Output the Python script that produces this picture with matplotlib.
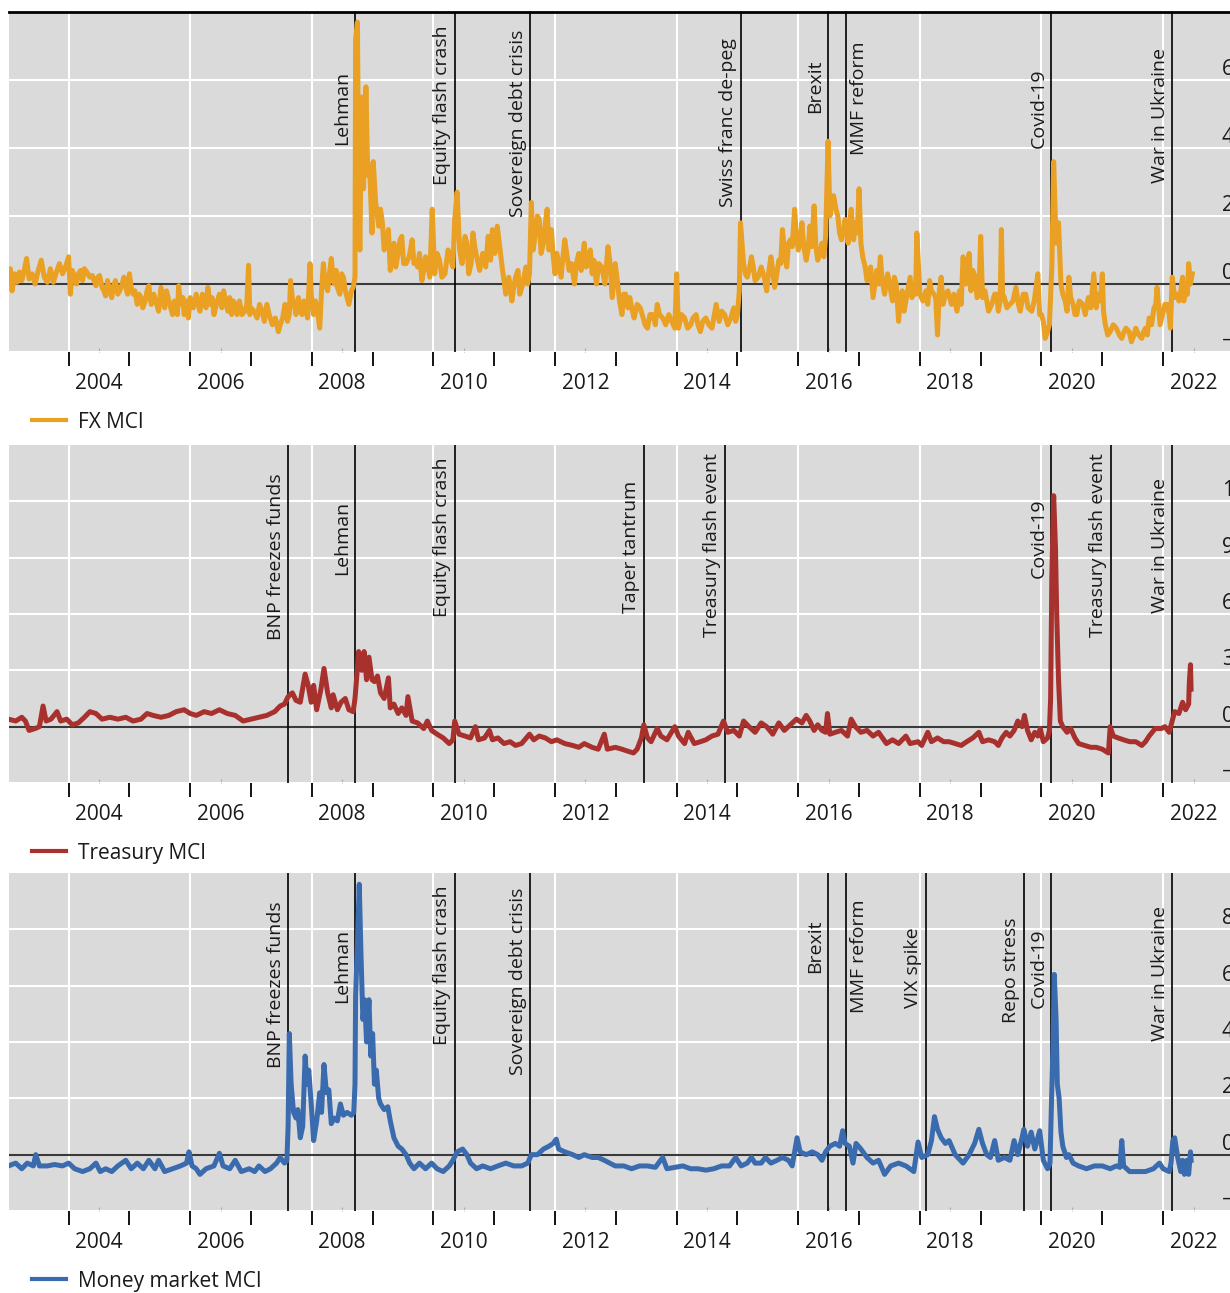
import matplotlib
matplotlib.use("Agg")
import matplotlib.pyplot as plt
from matplotlib.lines import Line2D

# ---------------- data (decimal year, index value) ----------------
fx_points = [
    (2003.01, 0.1), (2003.04, 0.45), (2003.07, -0.2), (2003.11, 0.3), (2003.15, 0.05), (2003.19, 0.35),
    (2003.23, 0.1), (2003.27, 0.4), (2003.31, 0.75), (2003.35, 0.15), (2003.40, 0.3), (2003.45, 0.0),
    (2003.50, 0.4), (2003.55, 0.7), (2003.60, 0.2), (2003.65, 0.05), (2003.70, 0.45), (2003.75, 0.05),
    (2003.80, 0.35), (2003.85, 0.6), (2003.90, 0.3), (2003.95, 0.5), (2004.00, 0.8), (2004.03, -0.3),
    (2004.06, 0.4), (2004.10, 0.2), (2004.16, 0.3), (2004.23, 0.1), (2004.26, 0.45), (2004.35, 0.2),
    (2004.42, 0.1), (2004.48, 0.2), (2004.55, -0.1), (2004.61, -0.35), (2004.68, -0.2), (2004.74, -0.05),
    (2004.81, -0.3), (2004.88, 0.0), (2004.94, -0.1), (2005.00, 0.3), (2005.06, -0.3), (2005.13, -0.6),
    (2005.19, -0.4), (2005.26, -0.5), (2005.32, -0.05), (2005.36, -0.6), (2005.45, -0.6), (2005.52, -0.1),
    (2005.58, -0.7), (2005.65, -0.5), (2005.71, -0.9), (2005.77, -0.7), (2005.81, -0.05), (2005.86, -0.6),
    (2005.90, -0.9), (2006.00, -0.4), (2006.10, -0.3), (2006.16, -0.8), (2006.23, -0.5), (2006.29, -0.1),
    (2006.39, -0.9), (2006.48, -0.3), (2006.58, -0.5), (2006.68, -0.9), (2006.74, -0.6), (2006.81, -0.5),
    (2006.90, -0.8), (2006.96, 0.55), (2007.00, -0.7), (2007.10, -1.0), (2007.18, -0.8), (2007.26, -0.6),
    (2007.35, -1.2), (2007.45, -1.4), (2007.52, -1.0), (2007.60, -1.1), (2007.65, 0.1), (2007.71, -0.6),
    (2007.84, -0.9), (2007.90, -0.7), (2007.97, 0.6), (2008.03, -0.9), (2008.13, -1.3), (2008.19, 0.6),
    (2008.26, -0.2), (2008.32, 0.75), (2008.37, 0.0), (2008.42, -0.1), (2008.52, 0.2), (2008.58, -0.4),
    (2008.61, -0.6), (2008.68, -0.1), (2008.71, 0.2), (2008.72, 7.2), (2008.75, 7.7), (2008.77, 3.0),
    (2008.79, 1.0), (2008.82, 5.5), (2008.85, 2.8), (2008.89, 5.8), (2008.92, 3.2), (2008.95, 3.5),
    (2008.99, 1.5), (2009.01, 3.6), (2009.05, 2.4), (2009.10, 1.7), (2009.16, 1.8), (2009.23, 1.3),
    (2009.29, 0.4), (2009.35, 1.2), (2009.42, 0.9), (2009.48, 1.4), (2009.55, 0.6), (2009.65, 1.3),
    (2009.70, 0.7), (2009.74, 0.5), (2009.81, 0.1), (2009.87, 0.8), (2009.94, 0.2), (2009.98, 2.2),
    (2010.02, 0.3), (2010.10, 0.7), (2010.19, 0.3), (2010.29, 0.7), (2010.35, 1.9), (2010.39, 2.7),
    (2010.43, 1.0), (2010.52, 1.4), (2010.58, 0.3), (2010.65, 1.5), (2010.71, 0.8), (2010.81, 0.9),
    (2010.90, 1.4), (2010.97, 1.6), (2011.05, 1.7), (2011.13, 0.5), (2011.19, -0.3), (2011.29, -0.5),
    (2011.35, 0.2), (2011.42, -0.3), (2011.52, 0.5), (2011.58, 0.3), (2011.61, 2.4), (2011.68, 1.5),
    (2011.74, 1.9), (2011.81, 1.2), (2011.87, 2.2), (2011.94, 1.6), (2012.00, 0.3), (2012.06, 0.6),
    (2012.16, 1.3), (2012.23, 0.4), (2012.32, 0.0), (2012.39, 0.9), (2012.48, 1.2), (2012.55, 0.6),
    (2012.61, 0.3), (2012.68, 0.0), (2012.77, 0.5), (2012.87, 1.1), (2012.94, -0.4), (2012.99, 0.6),
    (2013.06, -0.5), (2013.16, -0.3), (2013.26, -0.7), (2013.35, -0.6), (2013.45, -1.0), (2013.52, -1.3),
    (2013.61, -0.9), (2013.68, -0.6), (2013.77, -1.0), (2013.87, -0.9), (2013.97, -1.3), (2014.00, 0.3),
    (2014.03, -1.3), (2014.13, -1.0), (2014.23, -1.2), (2014.32, -0.9), (2014.39, -1.4), (2014.48, -1.0),
    (2014.58, -1.3), (2014.65, -0.6), (2014.74, -0.8), (2014.84, -1.2), (2014.94, -0.7), (2015.00, -0.9),
    (2015.03, -0.2), (2015.05, 1.8), (2015.10, 0.6), (2015.16, 0.2), (2015.23, 0.8), (2015.29, 0.1),
    (2015.39, 0.5), (2015.48, -0.2), (2015.55, 0.8), (2015.61, -0.1), (2015.68, 0.7), (2015.74, 1.6),
    (2015.81, 0.5), (2015.87, 1.3), (2015.94, 2.2), (2016.00, 1.0), (2016.06, 1.8), (2016.13, 0.7),
    (2016.19, 1.7), (2016.26, 2.3), (2016.32, 0.7), (2016.39, 1.2), (2016.45, 1.4), (2016.49, 4.2),
    (2016.52, 2.0), (2016.58, 2.6), (2016.65, 2.0), (2016.71, 1.3), (2016.77, 1.9), (2016.82, 1.2),
    (2016.87, 2.2), (2016.94, 1.8), (2017.00, 2.8), (2017.03, 1.2), (2017.10, 0.5), (2017.16, 0.3),
    (2017.23, -0.4), (2017.29, 0.4), (2017.35, 0.8), (2017.42, -0.3), (2017.52, -0.2), (2017.58, 0.2),
    (2017.65, -1.1), (2017.71, -0.2), (2017.77, -0.5), (2017.84, 0.2), (2017.90, -0.1), (2017.95, 1.5),
    (2018.00, -0.3), (2018.10, -0.2), (2018.16, 0.1), (2018.23, -0.3), (2018.29, -1.5), (2018.35, 0.2),
    (2018.42, -0.3), (2018.52, -0.6), (2018.61, -0.8), (2018.71, 0.8), (2018.81, 0.9), (2018.87, 0.4),
    (2018.94, -0.4), (2019.00, 1.4), (2019.03, -0.4), (2019.13, -0.8), (2019.23, -0.3), (2019.29, -0.8),
    (2019.34, 1.6), (2019.39, -0.4), (2019.48, -0.6), (2019.58, -0.1), (2019.65, -0.8), (2019.74, -0.3),
    (2019.84, -0.8), (2019.94, 0.3), (2020.00, -0.9), (2020.06, -1.6), (2020.13, -1.2), (2020.17, 0.5),
    (2020.20, 3.6), (2020.24, 1.2), (2020.28, 1.8), (2020.32, 0.0), (2020.39, -0.5), (2020.45, 0.2),
    (2020.52, -0.6), (2020.58, -0.9), (2020.68, -0.6), (2020.77, -0.4), (2020.86, 0.3), (2020.90, -0.7),
    (2020.97, -0.5), (2021.00, 0.3), (2021.05, -1.2), (2021.13, -1.4), (2021.23, -1.3), (2021.32, -1.6),
    (2021.39, -1.3), (2021.48, -1.7), (2021.55, -1.3), (2021.65, -1.6), (2021.71, -1.3), (2021.77, -1.0),
    (2021.85, -0.7), (2021.90, -0.1), (2021.95, -1.2), (2022.03, -0.6), (2022.10, -0.9), (2022.15, 0.2),
    (2022.19, -0.4), (2022.26, -0.5), (2022.32, 0.2), (2022.37, -0.2), (2022.42, 0.6), (2022.45, 0.0),
    (2022.48, 0.3),
]

# further readings of the FX band between the points above
fx_points_more = [
    (2004.13, 0.0), (2004.20, 0.4), (2004.30, 0.35), (2004.39, 0.25), (2004.45, -0.05), (2004.51, 0.25),
    (2004.58, -0.2), (2004.64, 0.1), (2004.71, -0.4), (2004.77, 0.1), (2004.84, -0.2), (2004.91, 0.2),
    (2004.97, -0.3), (2005.03, -0.1), (2005.09, -0.2), (2005.16, -0.3), (2005.22, -0.7), (2005.29, -0.2),
    (2005.34, -0.4), (2005.40, -0.3), (2005.48, -0.8), (2005.55, -0.4), (2005.61, -0.2), (2005.68, -0.7),
    (2005.74, -0.5), (2005.79, -0.9), (2005.83, -0.4), (2005.88, -0.4), (2005.94, -0.5), (2005.97, -1.0),
    (2006.05, -0.7), (2006.13, -0.6), (2006.20, -0.3), (2006.26, -0.7), (2006.33, -0.6), (2006.36, -0.4),
    (2006.43, -0.6), (2006.52, -0.7), (2006.55, -0.2), (2006.62, -0.8), (2006.65, -0.4), (2006.71, -0.5),
    (2006.77, -0.9), (2006.85, -0.9), (2006.93, -0.6), (2006.98, -0.9), (2007.05, -0.8), (2007.14, -0.6),
    (2007.22, -1.1), (2007.30, -0.9), (2007.40, -1.0), (2007.48, -1.2), (2007.56, -0.6), (2007.63, -0.9),
    (2007.68, -0.4), (2007.74, -0.9), (2007.78, -0.4), (2007.81, -0.8), (2007.87, -0.5), (2007.93, -1.0),
    (2007.99, -0.3), (2008.06, -0.5), (2008.10, -0.9), (2008.16, -0.2), (2008.22, 0.0), (2008.29, 0.3),
    (2008.35, 0.2), (2008.40, 0.4), (2008.46, -0.3), (2008.49, 0.3), (2008.55, -0.2), (2008.65, -0.2),
    (2009.13, 2.2), (2009.19, 1.0), (2009.26, 1.6), (2009.32, 0.9), (2009.38, 0.5), (2009.45, 1.3),
    (2009.51, 0.6), (2009.60, 0.8), (2009.68, 0.6), (2009.77, 0.9), (2009.84, 0.4), (2009.91, 0.5),
    (2010.06, 0.9), (2010.14, 0.2), (2010.24, 1.0), (2010.32, 0.5), (2010.47, 0.6), (2010.55, 1.2),
    (2010.62, 0.6), (2010.68, 1.1), (2010.76, 0.4), (2010.86, 0.5), (2010.94, 0.7), (2011.01, 0.9),
    (2011.09, 1.1), (2011.16, 0.1), (2011.24, 0.2), (2011.32, -0.1), (2011.39, 0.4), (2011.47, 0.0),
    (2011.55, 0.0), (2011.64, 1.0), (2011.71, 2.0), (2011.77, 0.9), (2011.84, 1.8), (2011.90, 1.0),
    (2011.97, 0.8), (2012.03, 0.9), (2012.10, 0.2), (2012.13, 0.8), (2012.20, 0.8), (2012.27, 0.6),
    (2012.35, 0.6), (2012.43, 0.4), (2012.51, 0.5), (2012.58, 1.0), (2012.64, 0.7), (2012.72, 0.6),
    (2012.82, 0.0), (2012.90, 0.7), (2012.97, 0.2), (2013.03, 0.0), (2013.10, -0.9), (2013.13, -0.3),
    (2013.20, -0.7), (2013.23, -0.4), (2013.30, -1.0), (2013.40, -0.7), (2013.48, -1.2), (2013.56, -0.9),
    (2013.65, -1.2), (2013.72, -0.9), (2013.82, -1.2), (2013.92, -1.1), (2014.08, -0.9), (2014.18, -1.3),
    (2014.27, -1.0), (2014.35, -1.2), (2014.43, -1.1), (2014.53, -1.2), (2014.62, -0.9), (2014.70, -1.1),
    (2014.79, -0.9), (2014.89, -1.0), (2014.97, -1.1), (2015.13, 0.3), (2015.19, 0.4), (2015.26, 0.5),
    (2015.34, 0.2), (2015.44, 0.2), (2015.51, 0.3), (2015.58, 0.4), (2015.64, 0.2), (2015.71, 0.6),
    (2015.78, 0.8), (2015.84, 1.2), (2015.90, 1.1), (2015.97, 1.4), (2016.03, 1.2), (2016.09, 1.1),
    (2016.16, 1.0), (2016.22, 1.1), (2016.29, 1.1), (2016.35, 0.9), (2016.42, 0.8), (2016.55, 2.3),
    (2016.62, 2.2), (2016.68, 1.5), (2016.74, 1.5), (2016.84, 1.7), (2016.91, 1.3), (2016.97, 1.5),
    (2017.06, 0.8), (2017.13, 0.1), (2017.19, 0.5), (2017.26, 0.0), (2017.32, 0.0), (2017.38, 0.1),
    (2017.47, 0.3), (2017.55, -0.5), (2017.61, 0.0), (2017.68, -0.4), (2017.74, -0.8), (2017.81, -0.1),
    (2017.87, -0.4), (2017.93, -0.3), (2018.05, -0.5), (2018.13, -0.6), (2018.19, -0.2), (2018.26, -0.4),
    (2018.32, -0.2), (2018.38, -0.6), (2018.46, -0.2), (2018.56, -0.3), (2018.65, -0.2), (2018.68, -0.6),
    (2018.76, 0.0), (2018.84, -0.2), (2018.91, 0.2), (2018.97, -0.3), (2019.07, -0.2), (2019.18, -0.6),
    (2019.26, -0.3), (2019.32, -0.5), (2019.36, -0.3), (2019.43, -0.7), (2019.53, -0.5), (2019.62, -0.6),
    (2019.70, -0.3), (2019.78, -0.7), (2019.88, -0.5), (2019.97, -0.9), (2020.03, -1.1), (2020.10, -1.4),
    (2020.35, -0.3), (2020.42, -0.8), (2020.48, -0.4), (2020.55, -0.9), (2020.62, -0.5), (2020.72, -0.9),
    (2020.81, -0.7), (2020.93, -0.3), (2021.02, -0.8), (2021.09, -1.5), (2021.18, -1.2), (2021.28, -1.5),
    (2021.36, -1.4), (2021.44, -1.4), (2021.52, -1.5), (2021.60, -1.5), (2021.68, -1.4), (2021.74, -1.5),
    (2021.81, -1.2), (2021.88, -0.6), (2021.99, -0.9), (2022.07, -0.6), (2022.12, -1.3), (2022.23, -0.3),
    (2022.29, -0.2), (2022.34, -0.5), (2022.40, -0.3),
]

treasury_points = [
    (2003.01, 0.4), (2003.13, 0.3), (2003.23, 0.5), (2003.29, 0.3), (2003.35, -0.2), (2003.45, -0.1),
    (2003.52, 0.0), (2003.58, 1.1), (2003.63, 0.3), (2003.71, 0.4), (2003.81, 0.8), (2003.87, 0.3),
    (2003.97, 0.4), (2004.06, 0.1), (2004.16, 0.2), (2004.26, 0.5), (2004.35, 0.8), (2004.45, 0.7),
    (2004.55, 0.4), (2004.68, 0.5), (2004.81, 0.4), (2004.94, 0.5), (2005.06, 0.3), (2005.19, 0.4),
    (2005.29, 0.7), (2005.39, 0.6), (2005.52, 0.5), (2005.65, 0.6), (2005.77, 0.8), (2005.90, 0.9),
    (2006.00, 0.7), (2006.10, 0.6), (2006.23, 0.8), (2006.35, 0.7), (2006.48, 0.9), (2006.61, 0.7),
    (2006.74, 0.6), (2006.87, 0.3), (2007.00, 0.4), (2007.13, 0.5), (2007.26, 0.6), (2007.39, 0.8),
    (2007.48, 1.1), (2007.55, 1.2), (2007.61, 1.6), (2007.68, 1.8), (2007.74, 1.4), (2007.81, 1.3),
    (2007.89, 2.8), (2007.94, 2.2), (2007.99, 1.3), (2008.03, 2.2), (2008.08, 0.9), (2008.15, 2.0),
    (2008.20, 3.1), (2008.26, 1.8), (2008.32, 1.0), (2008.35, 1.7), (2008.42, 0.9), (2008.48, 1.3),
    (2008.55, 1.5), (2008.61, 0.9), (2008.68, 0.8), (2008.71, 1.5), (2008.74, 2.7), (2008.77, 4.0),
    (2008.82, 3.0), (2008.86, 4.0), (2008.90, 2.5), (2008.94, 3.7), (2008.99, 2.5), (2009.03, 2.4),
    (2009.08, 2.7), (2009.13, 1.8), (2009.19, 1.5), (2009.26, 2.6), (2009.29, 1.0), (2009.35, 1.2),
    (2009.42, 0.7), (2009.48, 1.0), (2009.55, 0.6), (2009.58, 1.6), (2009.65, 0.3), (2009.74, 0.2),
    (2009.84, -0.1), (2009.90, 0.3), (2009.97, -0.2), (2010.06, -0.4), (2010.16, -0.6), (2010.26, -0.9),
    (2010.32, -0.7), (2010.35, 0.3), (2010.42, -0.4), (2010.52, -0.5), (2010.61, -0.6), (2010.69, 0.0),
    (2010.74, -0.7), (2010.84, -0.6), (2010.92, -0.2), (2010.97, -0.7), (2011.06, -0.6), (2011.16, -0.9),
    (2011.26, -0.8), (2011.35, -1.0), (2011.45, -0.9), (2011.58, -0.4), (2011.65, -0.7), (2011.74, -0.5),
    (2011.84, -0.6), (2011.94, -0.8), (2012.03, -0.7), (2012.16, -0.9), (2012.29, -1.0), (2012.39, -1.1),
    (2012.48, -0.9), (2012.61, -1.1), (2012.71, -1.2), (2012.81, -0.4), (2012.86, -1.2), (2012.99, -1.1),
    (2013.10, -1.2), (2013.19, -1.3), (2013.29, -1.4), (2013.35, -1.2), (2013.42, -0.6), (2013.46, 0.1),
    (2013.52, -0.6), (2013.58, -0.8), (2013.68, -0.1), (2013.74, -0.5), (2013.84, -0.7), (2013.97, 0.0),
    (2014.03, -0.5), (2014.13, -0.9), (2014.19, -0.3), (2014.29, -0.9), (2014.39, -0.8), (2014.48, -0.7),
    (2014.58, -0.5), (2014.68, -0.4), (2014.77, 0.3), (2014.84, -0.3), (2014.94, -0.2), (2015.03, -0.5),
    (2015.10, 0.3), (2015.19, 0.0), (2015.29, -0.3), (2015.39, 0.2), (2015.48, 0.0), (2015.58, -0.4),
    (2015.68, 0.2), (2015.77, -0.2), (2015.87, 0.1), (2015.97, 0.4), (2016.06, 0.2), (2016.13, 0.6),
    (2016.19, 0.3), (2016.26, -0.2), (2016.32, 0.1), (2016.39, -0.2), (2016.45, -0.3), (2016.48, 0.7),
    (2016.52, -0.4), (2016.61, -0.3), (2016.71, -0.2), (2016.81, -0.5), (2016.87, 0.4), (2016.94, 0.0),
    (2017.03, -0.3), (2017.13, -0.2), (2017.23, -0.5), (2017.32, -0.3), (2017.45, -0.9), (2017.55, -0.7),
    (2017.65, -0.9), (2017.77, -0.5), (2017.84, -0.9), (2017.97, -0.8), (2018.03, -1.0), (2018.13, -0.3),
    (2018.19, -0.8), (2018.29, -0.6), (2018.39, -0.8), (2018.48, -0.8), (2018.58, -0.9), (2018.68, -1.0),
    (2018.77, -0.8), (2018.87, -0.6), (2018.97, -0.3), (2019.03, -0.8), (2019.13, -0.7), (2019.23, -0.8),
    (2019.29, -1.0), (2019.35, -0.6), (2019.42, -0.3), (2019.48, -0.5), (2019.55, -0.2), (2019.61, 0.3),
    (2019.68, 0.0), (2019.72, 0.6), (2019.77, -0.2), (2019.83, -0.7), (2019.89, -0.3), (2019.94, -0.5),
    (2019.98, -0.1), (2020.03, -0.8), (2020.10, -0.6), (2020.13, -0.2), (2020.15, 1.5), (2020.17, 8.0),
    (2020.20, 12.3), (2020.23, 9.5), (2020.25, 6.0), (2020.28, 2.5), (2020.31, 0.3), (2020.35, 0.0),
    (2020.42, -0.3), (2020.48, -0.1), (2020.55, -0.6), (2020.61, -0.9), (2020.71, -1.0), (2020.81, -1.1),
    (2020.90, -1.1), (2021.00, -1.2), (2021.10, -1.4), (2021.13, 0.0), (2021.18, -0.5), (2021.26, -0.6),
    (2021.35, -0.7), (2021.45, -0.8), (2021.55, -0.8), (2021.65, -1.0), (2021.71, -0.8), (2021.77, -0.5),
    (2021.87, -0.1), (2021.97, -0.1), (2022.03, 0.0), (2022.10, -0.3), (2022.15, 0.3), (2022.19, 0.8),
    (2022.26, 0.7), (2022.32, 1.3), (2022.37, 0.9), (2022.42, 1.2), (2022.43, 2.3), (2022.45, 3.3),
    (2022.46, 2.0),
]

money_points = [
    (2003.01, -0.4), (2003.13, -0.3), (2003.23, -0.5), (2003.32, -0.3), (2003.42, -0.4), (2003.46, 0.0),
    (2003.52, -0.4), (2003.65, -0.4), (2003.77, -0.35), (2003.90, -0.4), (2004.00, -0.3), (2004.10, -0.5),
    (2004.23, -0.6), (2004.35, -0.5), (2004.45, -0.3), (2004.52, -0.6), (2004.61, -0.5), (2004.71, -0.6),
    (2004.81, -0.4), (2004.94, -0.2), (2005.03, -0.5), (2005.13, -0.3), (2005.23, -0.5), (2005.32, -0.2),
    (2005.42, -0.5), (2005.48, -0.2), (2005.58, -0.6), (2005.71, -0.5), (2005.84, -0.4), (2005.94, -0.3),
    (2005.98, 0.1), (2006.03, -0.4), (2006.10, -0.5), (2006.16, -0.7), (2006.26, -0.5), (2006.39, -0.4),
    (2006.48, 0.05), (2006.54, -0.4), (2006.65, -0.5), (2006.74, -0.2), (2006.84, -0.6), (2006.97, -0.5),
    (2007.06, -0.6), (2007.13, -0.4), (2007.23, -0.6), (2007.32, -0.5), (2007.42, -0.3), (2007.48, -0.1),
    (2007.55, -0.3), (2007.59, -0.2), (2007.61, 1.0), (2007.63, 4.3), (2007.66, 2.5), (2007.70, 1.5),
    (2007.74, 1.3), (2007.77, 1.6), (2007.81, 0.6), (2007.85, 1.0), (2007.89, 3.5), (2007.92, 2.5),
    (2007.95, 3.0), (2007.99, 1.8), (2008.03, 0.5), (2008.08, 1.2), (2008.13, 2.2), (2008.16, 1.5),
    (2008.20, 3.2), (2008.24, 2.2), (2008.28, 2.3), (2008.32, 1.1), (2008.37, 1.3), (2008.42, 1.2),
    (2008.47, 1.8), (2008.52, 1.4), (2008.58, 1.5), (2008.65, 1.4), (2008.69, 1.5), (2008.71, 2.5),
    (2008.72, 5.6), (2008.75, 7.5), (2008.78, 9.6), (2008.81, 7.0), (2008.84, 4.8), (2008.87, 5.5),
    (2008.90, 4.0), (2008.94, 5.5), (2008.97, 3.5), (2009.00, 4.3), (2009.03, 2.5), (2009.06, 3.0),
    (2009.10, 2.0), (2009.13, 1.8), (2009.16, 1.7), (2009.19, 1.6), (2009.25, 1.7), (2009.29, 1.2),
    (2009.35, 0.6), (2009.42, 0.3), (2009.48, 0.2), (2009.55, 0.0), (2009.61, -0.3), (2009.68, -0.5),
    (2009.77, -0.3), (2009.87, -0.5), (2009.97, -0.3), (2010.06, -0.5), (2010.16, -0.6), (2010.26, -0.4),
    (2010.32, -0.2), (2010.39, 0.1), (2010.48, 0.2), (2010.55, 0.0), (2010.61, -0.3), (2010.71, -0.5),
    (2010.81, -0.4), (2010.94, -0.5), (2011.06, -0.4), (2011.19, -0.3), (2011.32, -0.4), (2011.45, -0.4),
    (2011.55, -0.3), (2011.61, 0.0), (2011.71, 0.0), (2011.81, 0.2), (2011.90, 0.3), (2011.97, 0.4),
    (2012.02, 0.55), (2012.06, 0.2), (2012.16, 0.1), (2012.29, 0.0), (2012.39, -0.1), (2012.48, 0.0),
    (2012.61, -0.1), (2012.71, -0.1), (2012.81, -0.2), (2012.90, -0.3), (2012.99, -0.4), (2013.13, -0.4),
    (2013.26, -0.5), (2013.39, -0.4), (2013.52, -0.4), (2013.65, -0.45), (2013.77, -0.1), (2013.84, -0.5),
    (2013.97, -0.45), (2014.10, -0.4), (2014.23, -0.5), (2014.35, -0.5), (2014.48, -0.55), (2014.61, -0.5),
    (2014.74, -0.4), (2014.87, -0.4), (2014.97, -0.1), (2015.06, -0.4), (2015.16, -0.3), (2015.23, -0.1),
    (2015.29, -0.3), (2015.39, -0.3), (2015.46, -0.1), (2015.55, -0.3), (2015.65, -0.2), (2015.74, -0.1),
    (2015.84, -0.2), (2015.90, -0.4), (2015.94, 0.1), (2015.98, 0.6), (2016.03, 0.1), (2016.13, 0.0),
    (2016.23, 0.1), (2016.32, 0.0), (2016.39, -0.2), (2016.45, 0.1), (2016.52, 0.3), (2016.61, 0.4),
    (2016.68, 0.3), (2016.73, 0.85), (2016.77, 0.4), (2016.84, 0.3), (2016.90, -0.3), (2016.95, 0.4),
    (2017.03, 0.2), (2017.13, -0.1), (2017.23, -0.3), (2017.32, -0.2), (2017.42, -0.7), (2017.52, -0.4),
    (2017.65, -0.3), (2017.77, -0.4), (2017.90, -0.6), (2017.97, 0.45), (2018.03, -0.1), (2018.13, 0.0),
    (2018.19, 0.5), (2018.24, 1.35), (2018.29, 0.9), (2018.35, 0.6), (2018.42, 0.4), (2018.48, 0.5),
    (2018.58, 0.0), (2018.71, -0.3), (2018.81, 0.0), (2018.90, 0.4), (2018.97, 0.9), (2019.03, 0.4),
    (2019.10, 0.0), (2019.16, -0.1), (2019.23, 0.5), (2019.29, -0.2), (2019.39, -0.1), (2019.48, -0.2),
    (2019.55, 0.5), (2019.61, 0.0), (2019.68, 0.6), (2019.71, 0.9), (2019.77, 0.3), (2019.83, 0.8),
    (2019.89, 0.2), (2019.97, 0.85), (2020.03, -0.2), (2020.10, -0.5), (2020.14, -0.3), (2020.16, 1.5),
    (2020.19, 4.0), (2020.21, 6.4), (2020.24, 4.8), (2020.26, 2.5), (2020.29, 2.0), (2020.32, 0.8),
    (2020.35, 0.3), (2020.41, -0.1), (2020.45, 0.0), (2020.52, -0.3), (2020.61, -0.4), (2020.74, -0.5),
    (2020.87, -0.4), (2021.00, -0.4), (2021.13, -0.5), (2021.23, -0.4), (2021.29, -0.45), (2021.32, 0.5),
    (2021.35, -0.4), (2021.45, -0.6), (2021.58, -0.6), (2021.71, -0.6), (2021.84, -0.5), (2021.94, -0.3),
    (2022.00, -0.5), (2022.10, -0.6), (2022.13, -0.3), (2022.16, 0.5), (2022.19, 0.6), (2022.24, -0.1),
    (2022.29, -0.6), (2022.32, -0.2), (2022.35, -0.7), (2022.39, -0.2), (2022.42, -0.7), (2022.45, 0.1),
    (2022.46, -0.2),
]

fx_events = [("Lehman", 2008.71), ("Equity flash crash", 2010.35), ("Sovereign debt crisis", 2011.59),
             ("Swiss franc de-peg", 2015.05), ("Brexit", 2016.49), ("MMF reform", 2016.79),
             ("Covid-19", 2020.16), ("War in Ukraine", 2022.15)]
treasury_events = [("BNP freezes funds", 2007.61), ("Lehman", 2008.71), ("Equity flash crash", 2010.35),
                   ("Taper tantrum", 2013.46), ("Treasury flash event", 2014.79), ("Covid-19", 2020.16),
                   ("Treasury flash event", 2021.14), ("War in Ukraine", 2022.15)]
money_events = [("BNP freezes funds", 2007.61), ("Lehman", 2008.71), ("Equity flash crash", 2010.35),
                ("Sovereign debt crisis", 2011.59), ("Brexit", 2016.49), ("MMF reform", 2016.79),
                ("VIX spike", 2018.10), ("Repo stress", 2019.71), ("Covid-19", 2020.16),
                ("War in Ukraine", 2022.15)]

series_names = ["FX MCI", "Treasury MCI", "Money market MCI"]
y_ticks = [[-2, 0, 2, 4, 6], [-3, 0, 3, 6, 9, 12], [-2, 0, 2, 4, 6, 8]]
year_labels = list(range(2004, 2023, 2))

# ---------------- layout / style ----------------
plt.rcParams['font.family'] = ['Open Sans', 'DejaVu Sans']
FS = 15
FS_EVENT = 14
W, H = 1230, 1293
colors = ["#E9A023", "#A8312E", "#3A6BAE"]
ylims = [(-2, 8), (-3, 15), (-2, 10)]
panel_px = [(12, 352), (445, 783), (873, 1211)]  # top, bottom in pixels
label_fracs = [
    [0.609, 0.491, 0.397, 0.426, 0.703, 0.579, 0.60, 0.497],
    [0.423, 0.615, 0.491, 0.503, 0.432, 0.607, 0.432, 0.503],
    [0.423, 0.615, 0.491, 0.402, 0.704, 0.586, 0.60, 0.556, 0.60, 0.503],
]
labels_right_of_line = {"MMF reform"}

fig = plt.figure(figsize=(W / 100, H / 100), dpi=100)

all_points = [sorted(fx_points + fx_points_more), treasury_points, money_points]
all_events = [fx_events, treasury_events, money_events]

for i in range(3):
    top, bot = panel_px[i]
    ax = fig.add_axes([9 / W, 1 - bot / H, (W - 9) / W, (bot - top) / H])
    ax.set_facecolor("#DADADA")
    ax.set_xlim(2003.02, 2023.10)
    ax.set_ylim(*ylims[i])
    for s in ax.spines.values():
        s.set_visible(False)
    if i == 0:
        ax.spines['top'].set_visible(True)
        ax.spines['top'].set_linewidth(2)
        ax.spines['top'].set_color('black')

    # y axis: labels inside on the right
    ax.set_yticks(y_ticks[i])
    ax.set_yticklabels([str(v).replace('-', '\u2212') for v in y_ticks[i]])
    ax.yaxis.tick_right()
    ax.tick_params(axis='y', length=0, pad=-6, labelsize=FS, labelcolor='#1a1a1a')
    for lab in ax.get_yticklabels():
        lab.set_verticalalignment('bottom')
    ax.grid(axis='y', color='white', lw=1.5)
    ax.set_axisbelow(True)

    # x axis
    ax.set_xticks(list(range(2004, 2023)))
    ax.set_xticklabels([])
    ax.tick_params(axis='x', which='major', length=10, width=1.3, direction='out', color='black')
    ax.set_xticks([y + 0.5 for y in year_labels], minor=True)
    ax.set_xticklabels([str(y) for y in year_labels], minor=True)
    ax.tick_params(axis='x', which='minor', length=3, width=0.8, direction='in', color='#aaaaaa',
                   labelsize=FS, pad=15, labelcolor='#1a1a1a')
    for y in year_labels:
        ax.axvline(y, color='white', lw=1.5, zorder=0.6)

    ax.axhline(0, color='#3a3a3a', lw=1.5, zorder=2)

    for (name, yr), fr in zip(all_events[i], label_fracs[i]):
        ax.axvline(yr, color='black', lw=1.2, zorder=3)
        if name in labels_right_of_line:
            off, ha = 3, 'left'
        else:
            off, ha = -2.5, 'right'
        ax.annotate(name, xy=(yr, fr), xycoords=('data', 'axes fraction'), xytext=(off, 0),
                    textcoords='offset points', rotation=90, ha=ha, va='bottom',
                    fontsize=FS_EVENT, color='#1a1a1a', zorder=5)

    xs = [p[0] for p in all_points[i]]
    ys = [p[1] for p in all_points[i]]
    ax.plot(xs, ys, color=colors[i], lw=3.6, zorder=4, solid_joinstyle='round')

    frac_y = -70 / (bot - top)
    ax.legend(handles=[Line2D([], [], color=colors[i], lw=3)], labels=[series_names[i]],
              loc='center left', bbox_to_anchor=(23 / (W - 9), frac_y), frameon=False,
              fontsize=FS, handlelength=1.63, handletextpad=0.58, borderpad=0, borderaxespad=0,
              labelcolor='#1a1a1a')

fig.savefig("out.png", dpi=100)
